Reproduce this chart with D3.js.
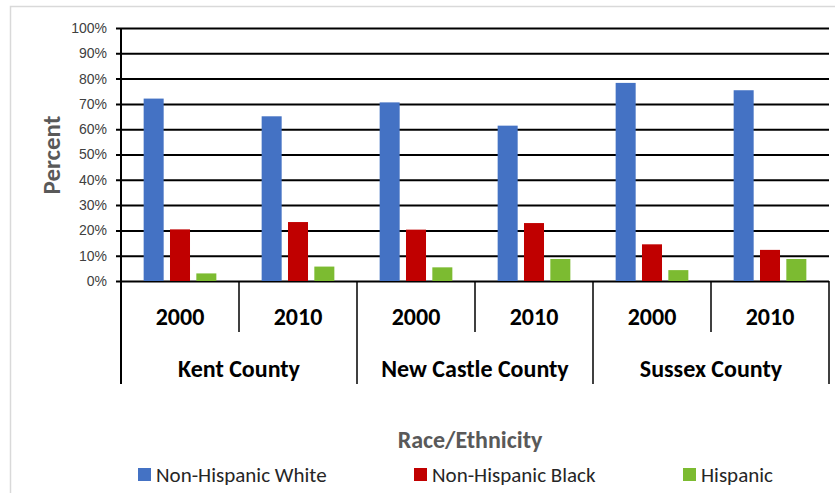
<!DOCTYPE html>
<html>
<head>
  <meta charset="utf-8">
  <script src="https://d3js.org/d3.v7.min.js"></script>
  <style>
    body { margin: 0; background: #fff; }
    svg { font-family: Carlito, Lato, "Open Sans", sans-serif; }
  </style>
</head>
<body>
  <script>
    // Data (percent)
    const counties = ["Kent County", "New Castle County", "Sussex County"];
    const years = ["2000", "2010"];
    const seriesNames = ["Non-Hispanic White", "Non-Hispanic Black", "Hispanic"];
    const white = [72.1, 65.1, 70.6, 61.4, 78.3, 75.4];
    const black = [20.4, 23.3, 20.3, 22.9, 14.5, 12.3];
    const hispanic = [3.0, 5.7, 5.4, 8.7, 4.3, 8.7];
    const yTicks = [0, 10, 20, 30, 40, 50, 60, 70, 80, 90, 100];
    const colors = ["#4472C4", "#C00000", "#7CBB31"];

    const width = 835, height = 493;
    const plotLeft = 121, plotRight = 829, plotTop = 28, plotBottom = 281;

    // one slot per county/year combination
    const slots = [];
    counties.forEach(c => years.forEach(y => slots.push(c + "|" + y)));
    const values = [white, black, hispanic];

    const svg = d3.select("body").append("svg")
      .attr("width", width)
      .attr("height", height);

    // light frame of the chart area
    svg.append("rect")
      .attr("x", 10.5).attr("y", 6.5)
      .attr("width", 840).attr("height", 500)
      .attr("fill", "none")
      .attr("stroke", "#d9d9d9")
      .attr("stroke-width", 1.5);

    const x = d3.scaleBand().domain(slots).range([plotLeft, plotRight]).padding(0);
    const xInner = d3.scaleBand().domain(seriesNames)
      .range([0, x.bandwidth()])
      .paddingInner(0.24).paddingOuter(0.86);
    const y = d3.scaleLinear().domain([0, 100]).range([plotBottom, plotTop]);

    // gridlines + y axis
    const yAxis = d3.axisLeft(y)
      .tickValues(yTicks)
      .tickFormat(d => d + "%")
      .tickSize(-(plotRight - plotLeft))
      .tickSizeOuter(0);
    const gy = svg.append("g")
      .attr("transform", `translate(${plotLeft},0)`)
      .call(yAxis);
    gy.select(".domain").remove();
    gy.selectAll(".tick line")
      .attr("x1", -5)
      .attr("stroke", "#000")
      .attr("stroke-width", 2);
    gy.selectAll(".tick text")
      .attr("x", -14)
      .attr("fill", "#404040")
      .style("font-size", "14px");

    // bars
    seriesNames.forEach((s, si) => {
      svg.append("g").selectAll("rect")
        .data(values[si])
        .join("rect")
        .attr("x", (d, i) => x(slots[i]) + xInner(s))
        .attr("y", d => y(d))
        .attr("width", xInner.bandwidth())
        .attr("height", d => y(0) - y(d))
        .attr("fill", colors[si]);
    });

    // vertical y axis line
    const yearBottom = 332, countyBottom = 384;
    svg.append("line")
      .attr("x1", plotLeft).attr("x2", plotLeft)
      .attr("y1", plotTop).attr("y2", countyBottom)
      .attr("stroke", "#000").attr("stroke-width", 2);

    // category axis: year dividers and county dividers
    slots.forEach((s, i) => {
      if (i === 0) return;
      const xx = x(s);
      svg.append("line")
        .attr("x1", xx).attr("x2", xx)
        .attr("y1", plotBottom).attr("y2", i % 2 === 0 ? countyBottom : yearBottom)
        .attr("stroke", "#000").attr("stroke-width", 1.5);
    });
    svg.append("line")
      .attr("x1", plotRight).attr("x2", plotRight)
      .attr("y1", plotBottom).attr("y2", countyBottom)
      .attr("stroke", "#000").attr("stroke-width", 1.5);

    // year labels
    svg.append("g").selectAll("text")
      .data(slots)
      .join("text")
      .attr("x", d => x(d) + x.bandwidth() / 2)
      .attr("y", 325)
      .attr("text-anchor", "middle")
      .attr("font-weight", "bold")
      .style("font-size", "24px")
      .attr("fill", "#000")
      .text(d => d.split("|")[1]);

    // county labels
    svg.append("g").selectAll("text")
      .data(counties)
      .join("text")
      .attr("x", (d, i) => x(slots[i * 2]) + x.bandwidth())
      .attr("y", 377)
      .attr("text-anchor", "middle")
      .attr("font-weight", "bold")
      .style("font-size", "24px")
      .attr("fill", "#000")
      .text(d => d);

    // axis titles
    svg.append("text")
      .attr("transform", "translate(60,155) rotate(-90)")
      .attr("text-anchor", "middle")
      .attr("font-weight", "bold")
      .style("font-size", "25px")
      .attr("fill", "#595959")
      .text("Percent");

    svg.append("text")
      .attr("x", 470).attr("y", 448)
      .attr("text-anchor", "middle")
      .attr("font-weight", "bold")
      .style("font-size", "24px")
      .attr("fill", "#595959")
      .text("Race/Ethnicity");

    // legend
    const legendX = [138, 414, 683];
    const legend = svg.append("g").selectAll("g")
      .data(seriesNames)
      .join("g")
      .attr("transform", (d, i) => `translate(${legendX[i]},468)`);
    legend.append("rect")
      .attr("width", 13).attr("height", 13)
      .attr("fill", (d, i) => colors[i]);
    legend.append("text")
      .attr("x", 18).attr("y", 14)
      .style("font-size", "21px")
      .attr("fill", "#262626")
      .text(d => d);
  </script>
</body>
</html>
